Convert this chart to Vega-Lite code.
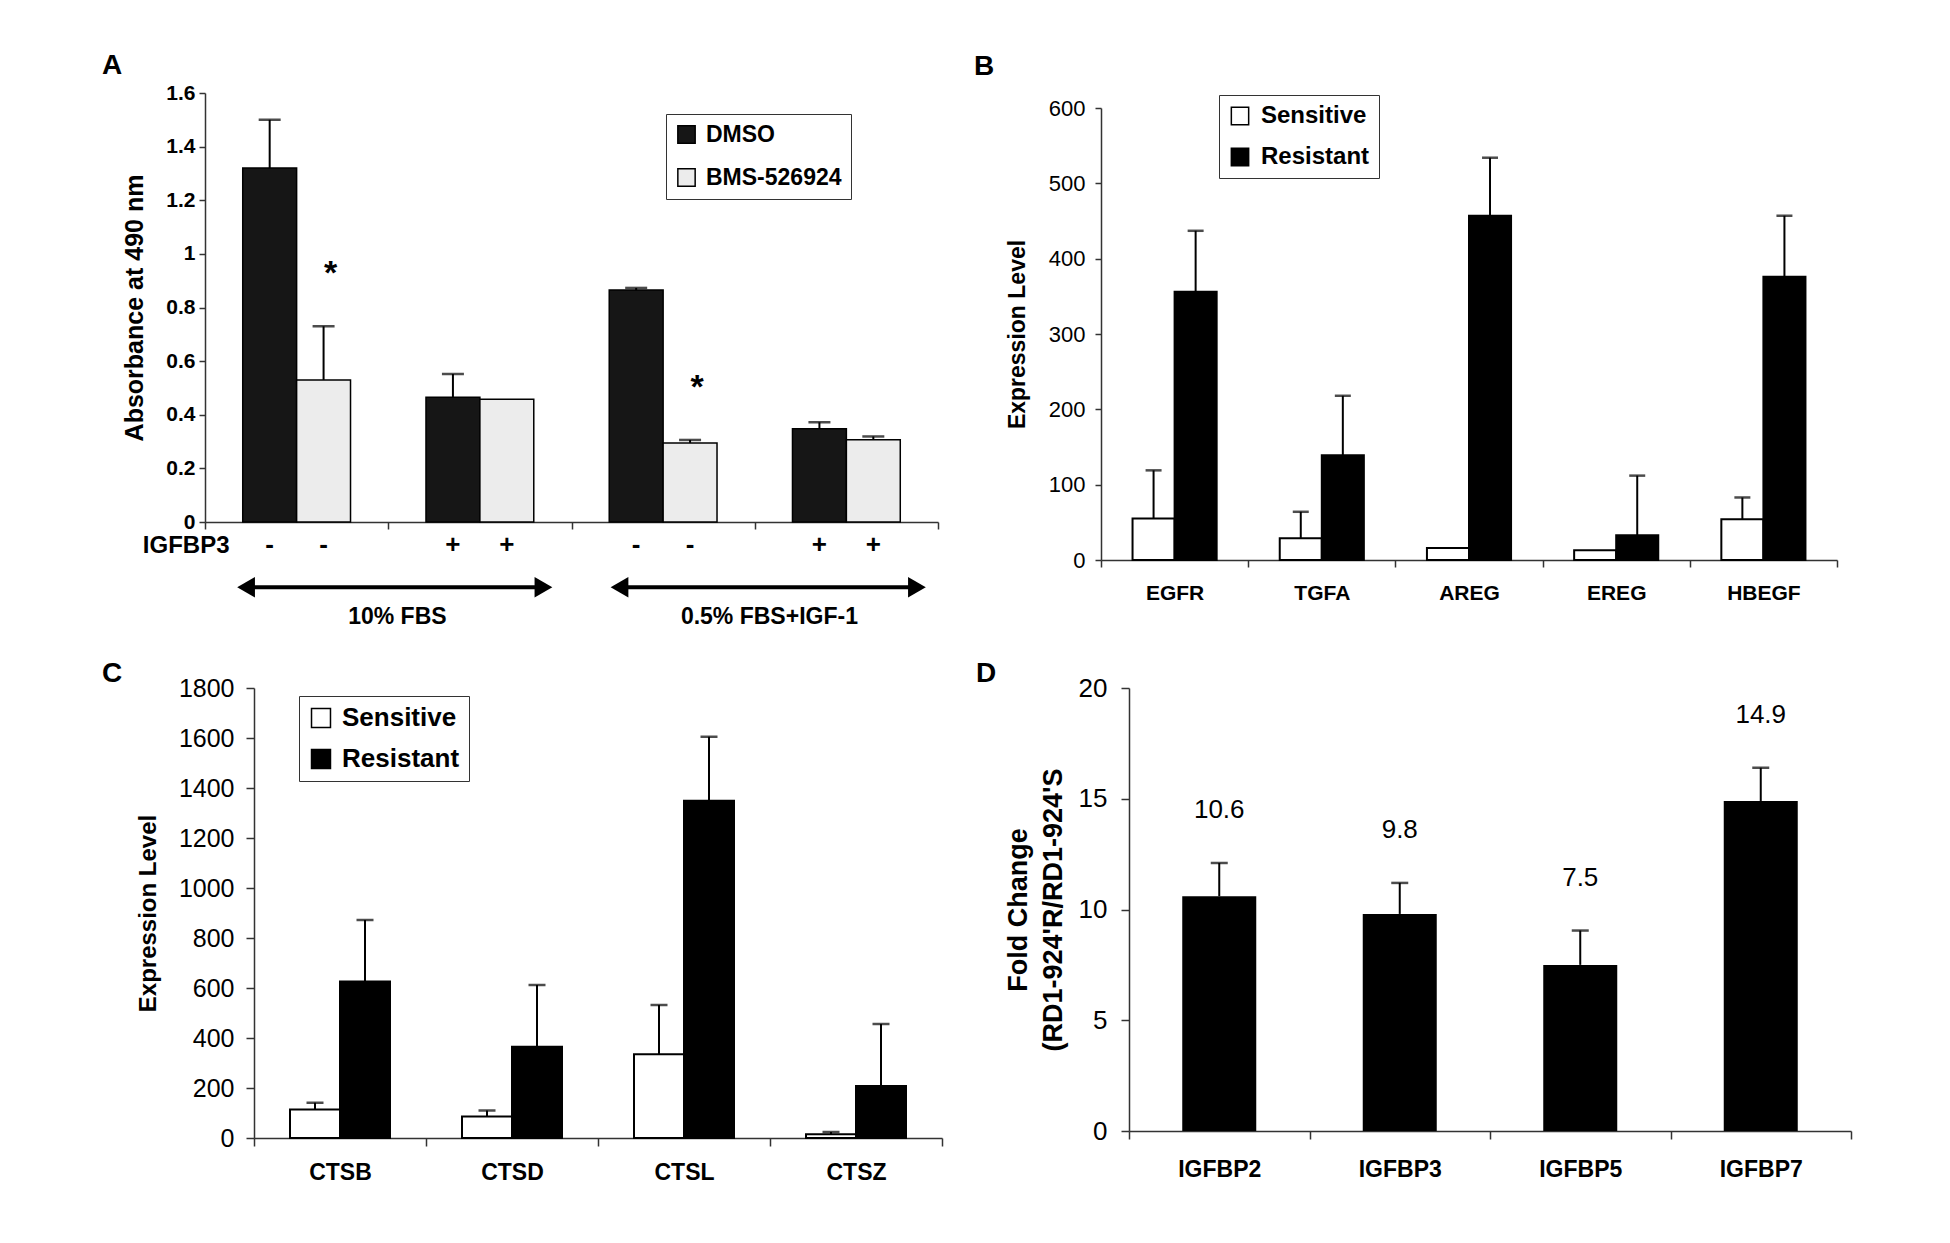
{
  "$schema": "https://vega.github.io/schema/vega-lite/v6.json",
  "background": "white",
  "padding": {"left": 101, "top": 51, "right": 10, "bottom": 10},
  "config": {
    "view": {"stroke": null},
    "font": "Liberation Sans",
    "axis": {"grid": false, "domainColor": "#333", "domainWidth": 1.5, "tickColor": "#333", "tickWidth": 1.5, "labelColor": "#000", "titleColor": "#000", "labelFont": "Liberation Sans", "titleFont": "Liberation Sans"},
    "title": {"font": "Liberation Sans", "fontSize": 28, "fontWeight": "bold", "color": "#000", "anchor": "start", "frame": "group"}
  },
  "columns": 2,
  "align": "none",
  "spacing": {"row": 31, "column": 0},
  "resolve": {"scale": {"x": "independent", "y": "independent", "color": "independent", "xOffset": "independent"}, "legend": {"color": "independent"}},
  "concat": [
    {"width": 1, "height": 1, "data": {"values": []}, "mark": "point"},
    {
      "spacing": 35,
      "resolve": {"scale": {"x": "independent", "y": "independent", "color": "independent", "xOffset": "independent"}, "legend": {"color": "independent"}},
      "hconcat": [
        {
          "columns": 1, "align": "none", "spacing": 0,
          "resolve": {"scale": {"x": "independent", "y": "independent", "color": "independent", "xOffset": "independent"}, "legend": {"color": "independent"}},
          "concat": [
            {"width": 1, "height": 1, "data": {"values": []}, "mark": "point"},
            {
              "width": 733, "height": 429,
              "title": {"text": "A", "dx": -103, "offset": 2},
              "resolve": {"scale": {"x": "independent", "y": "independent"}},
              "layer": [
                {
                  "data": {"values": [
                    {"group": "10% FBS, no IGFBP3", "treatment": "DMSO", "absorbance": 1.32, "err": 1.50, "igfbp3": "-", "sig": ""},
                    {"group": "10% FBS, no IGFBP3", "treatment": "BMS-526924", "absorbance": 0.53, "err": 0.73, "igfbp3": "-", "sig": "*"},
                    {"group": "10% FBS, IGFBP3", "treatment": "DMSO", "absorbance": 0.465, "err": 0.552, "igfbp3": "+", "sig": ""},
                    {"group": "10% FBS, IGFBP3", "treatment": "BMS-526924", "absorbance": 0.458, "err": 0.458, "igfbp3": "+", "sig": ""},
                    {"group": "0.5% FBS+IGF-1, no IGFBP3", "treatment": "DMSO", "absorbance": 0.865, "err": 0.873, "igfbp3": "-", "sig": ""},
                    {"group": "0.5% FBS+IGF-1, no IGFBP3", "treatment": "BMS-526924", "absorbance": 0.295, "err": 0.306, "igfbp3": "-", "sig": "*"},
                    {"group": "0.5% FBS+IGF-1, IGFBP3", "treatment": "DMSO", "absorbance": 0.348, "err": 0.372, "igfbp3": "+", "sig": ""},
                    {"group": "0.5% FBS+IGF-1, IGFBP3", "treatment": "BMS-526924", "absorbance": 0.307, "err": 0.319, "igfbp3": "+", "sig": ""}
                  ]},
                  "layer": [
                    {
                      "mark": {"type": "bar", "stroke": "#000", "strokeWidth": 1.5},
                      "encoding": {
                        "x": {"field": "group", "type": "nominal", "sort": null, "scale": {"paddingInner": 0, "paddingOuter": 0},
                          "axis": {"labels": false, "tickBand": "extent", "tickSize": 7, "title": "IGFBP3", "titleX": 24, "titleY": 23, "titleAlign": "right", "titleBaseline": "middle", "titleFontSize": 24, "titleFontWeight": "bold"}},
                        "xOffset": {"field": "treatment", "type": "nominal", "sort": ["DMSO", "BMS-526924"], "scale": {"paddingInner": 0, "paddingOuter": 0.7}},
                        "y": {"field": "absorbance", "type": "quantitative", "scale": {"domain": [0, 1.6], "nice": false},
                          "axis": {"values": [0, 0.2, 0.4, 0.6, 0.8, 1, 1.2, 1.4, 1.6], "format": "~g", "labelFontSize": 21, "labelFontWeight": "bold", "tickSize": 6, "labelPadding": 4, "title": "Absorbance at 490 nm", "titleFontSize": 25, "titleFontWeight": "bold", "titleX": -63, "titleBaseline": "alphabetic"}},
                        "color": {"field": "treatment", "type": "nominal", "scale": {"domain": ["DMSO", "BMS-526924"], "range": ["#161616", "#ececec"]},
                          "legend": {"title": null, "orient": "none", "legendX": 461, "legendY": 21, "symbolType": "square", "symbolSize": 300, "symbolStrokeColor": "#000", "symbolStrokeWidth": 1.5, "labelFont": "Liberation Sans", "labelFontSize": 23, "labelFontWeight": "bold", "labelColor": "#000", "strokeColor": "#333", "padding": 9, "rowPadding": 18, "labelOffset": 8, "fillColor": "#fff"}}
                      }
                    },
                    {
                      "transform": [{"filter": "datum.err > datum.absorbance"}],
                      "mark": {"type": "rule", "strokeWidth": 2, "color": "#000"},
                      "encoding": {
                        "x": {"field": "group", "type": "nominal", "sort": null},
                        "xOffset": {"field": "treatment", "type": "nominal", "sort": ["DMSO", "BMS-526924"]},
                        "y": {"field": "absorbance", "type": "quantitative"},
                        "y2": {"field": "err"}
                      }
                    },
                    {
                      "transform": [{"filter": "datum.err > datum.absorbance"}],
                      "mark": {"type": "tick", "thickness": 2.5, "size": 22, "color": "#000", "orient": "horizontal"},
                      "encoding": {
                        "x": {"field": "group", "type": "nominal", "sort": null},
                        "xOffset": {"field": "treatment", "type": "nominal", "sort": ["DMSO", "BMS-526924"]},
                        "y": {"field": "err", "type": "quantitative"}
                      }
                    },
                    {
                      "transform": [{"filter": "datum.sig == '*'"}],
                      "mark": {"type": "text", "fontSize": 34, "fontWeight": "bold", "dy": -52, "dx": 7, "baseline": "middle", "color": "#000"},
                      "encoding": {
                        "x": {"field": "group", "type": "nominal", "sort": null},
                        "xOffset": {"field": "treatment", "type": "nominal", "sort": ["DMSO", "BMS-526924"]},
                        "y": {"field": "err", "type": "quantitative"},
                        "text": {"field": "sig"}
                      }
                    },
                    {
                      "mark": {"type": "text", "fontSize": 26, "fontWeight": "bold", "dy": 23, "baseline": "middle", "color": "#000"},
                      "encoding": {
                        "x": {"field": "group", "type": "nominal", "sort": null},
                        "xOffset": {"field": "treatment", "type": "nominal", "sort": ["DMSO", "BMS-526924"]},
                        "y": {"datum": 0, "type": "quantitative"},
                        "text": {"field": "igfbp3"}
                      }
                    }
                  ]
                },
                {
                  "data": {"values": [
                    {"condition": "10% FBS", "start": 0.224, "end": 1.847, "center": 1.05},
                    {"condition": "0.5% FBS+IGF-1", "start": 2.262, "end": 3.885, "center": 3.08}
                  ]},
                  "layer": [
                    {
                      "mark": {"type": "rule", "strokeWidth": 4, "color": "#000"},
                      "encoding": {
                        "x": {"field": "start", "type": "quantitative", "scale": {"domain": [0, 4], "nice": false, "zero": false}, "axis": null},
                        "x2": {"field": "end"},
                        "y": {"datum": -0.243, "type": "quantitative", "scale": {"domain": [0, 1.6], "nice": false}, "axis": null}
                      }
                    },
                    {
                      "mark": {"type": "point", "shape": "triangle-left", "filled": true, "size": 420, "color": "#000", "opacity": 1},
                      "encoding": {
                        "x": {"field": "start", "type": "quantitative"},
                        "y": {"datum": -0.243, "type": "quantitative"}
                      }
                    },
                    {
                      "mark": {"type": "point", "shape": "triangle-right", "filled": true, "size": 420, "color": "#000", "opacity": 1},
                      "encoding": {
                        "x": {"field": "end", "type": "quantitative"},
                        "y": {"datum": -0.243, "type": "quantitative"}
                      }
                    },
                    {
                      "mark": {"type": "text", "fontSize": 23, "fontWeight": "bold", "baseline": "middle", "color": "#000"},
                      "encoding": {
                        "x": {"field": "center", "type": "quantitative"},
                        "y": {"datum": -0.354, "type": "quantitative"},
                        "text": {"field": "condition"}
                      }
                    }
                  ]
                }
              ]
            }
          ]
        },
        {
          "columns": 1, "align": "none", "spacing": 0,
          "resolve": {"scale": {"x": "independent", "y": "independent", "color": "independent", "xOffset": "independent"}, "legend": {"color": "independent"}},
          "concat": [
            {"width": 1, "height": 1, "data": {"values": []}, "mark": "point"},
            {
              "width": 736, "height": 452,
              "title": {"text": "B", "dx": -127, "offset": 14},
              "data": {"values": [
                {"gene": "EGFR", "line": "Sensitive", "expression": 55, "err": 119},
                {"gene": "EGFR", "line": "Resistant", "expression": 356, "err": 437},
                {"gene": "TGFA", "line": "Sensitive", "expression": 29, "err": 64},
                {"gene": "TGFA", "line": "Resistant", "expression": 139, "err": 218},
                {"gene": "AREG", "line": "Sensitive", "expression": 16, "err": 16},
                {"gene": "AREG", "line": "Resistant", "expression": 457, "err": 534},
                {"gene": "EREG", "line": "Sensitive", "expression": 13, "err": 13},
                {"gene": "EREG", "line": "Resistant", "expression": 33, "err": 112},
                {"gene": "HBEGF", "line": "Sensitive", "expression": 54, "err": 83},
                {"gene": "HBEGF", "line": "Resistant", "expression": 376, "err": 457}
              ]},
              "layer": [
                {
                  "mark": {"type": "bar", "stroke": "#000", "strokeWidth": 2},
                  "encoding": {
                    "x": {"field": "gene", "type": "nominal", "sort": null, "scale": {"paddingInner": 0, "paddingOuter": 0},
                      "axis": {"title": null, "labelAngle": 0, "labelFontSize": 21, "labelFontWeight": "bold", "tickBand": "extent", "tickSize": 7, "labelPadding": 15}},
                    "xOffset": {"field": "line", "type": "nominal", "sort": ["Sensitive", "Resistant"], "scale": {"paddingInner": 0, "paddingOuter": 0.75}},
                    "y": {"field": "expression", "type": "quantitative", "scale": {"domain": [0, 600], "nice": false},
                      "axis": {"values": [0, 100, 200, 300, 400, 500, 600], "format": "d", "labelFontSize": 22, "tickSize": 6, "labelPadding": 10, "title": "Expression Level", "titleFontSize": 23, "titleFontWeight": "bold", "titleX": -77, "titleBaseline": "alphabetic"}},
                    "color": {"field": "line", "type": "nominal", "scale": {"domain": ["Sensitive", "Resistant"], "range": ["#ffffff", "#000000"]},
                      "legend": {"title": null, "orient": "none", "legendX": 118, "legendY": -13, "symbolType": "square", "symbolSize": 300, "symbolStrokeColor": "#000", "symbolStrokeWidth": 1.5, "labelFont": "Liberation Sans", "labelFontSize": 24, "labelFontWeight": "bold", "labelColor": "#000", "strokeColor": "#333", "padding": 9, "rowPadding": 17, "labelOffset": 9, "fillColor": "#fff"}}
                  }
                },
                {
                  "transform": [{"filter": "datum.err > datum.expression"}],
                  "mark": {"type": "rule", "strokeWidth": 2, "color": "#000"},
                  "encoding": {
                    "x": {"field": "gene", "type": "nominal", "sort": null},
                    "xOffset": {"field": "line", "type": "nominal", "sort": ["Sensitive", "Resistant"]},
                    "y": {"field": "expression", "type": "quantitative"},
                    "y2": {"field": "err"}
                  }
                },
                {
                  "transform": [{"filter": "datum.err > datum.expression"}],
                  "mark": {"type": "tick", "thickness": 2.5, "size": 16, "color": "#000", "orient": "horizontal"},
                  "encoding": {
                    "x": {"field": "gene", "type": "nominal", "sort": null},
                    "xOffset": {"field": "line", "type": "nominal", "sort": ["Sensitive", "Resistant"]},
                    "y": {"field": "err", "type": "quantitative"}
                  }
                }
              ]
            }
          ]
        }
      ]
    },
    {"width": 1, "height": 1, "data": {"values": []}, "mark": "point"},
    {
      "spacing": 33,
      "resolve": {"scale": {"x": "independent", "y": "independent", "color": "independent", "xOffset": "independent"}, "legend": {"color": "independent"}},
      "hconcat": [
        {
          "width": 688, "height": 450,
          "title": {"text": "C", "dx": -152, "offset": -12},
          "data": {"values": [
            {"gene": "CTSB", "line": "Sensitive", "expression": 114, "err": 141},
            {"gene": "CTSB", "line": "Resistant", "expression": 626, "err": 872},
            {"gene": "CTSD", "line": "Sensitive", "expression": 86, "err": 110},
            {"gene": "CTSD", "line": "Resistant", "expression": 365, "err": 612},
            {"gene": "CTSL", "line": "Sensitive", "expression": 335, "err": 532},
            {"gene": "CTSL", "line": "Resistant", "expression": 1349, "err": 1605},
            {"gene": "CTSZ", "line": "Sensitive", "expression": 15, "err": 24},
            {"gene": "CTSZ", "line": "Resistant", "expression": 208, "err": 456}
          ]},
          "layer": [
            {
              "mark": {"type": "bar", "stroke": "#000", "strokeWidth": 2},
              "encoding": {
                "x": {"field": "gene", "type": "nominal", "sort": null, "scale": {"paddingInner": 0, "paddingOuter": 0},
                  "axis": {"title": null, "labelAngle": 0, "labelFontSize": 23, "labelFontWeight": "bold", "tickBand": "extent", "tickSize": 8, "labelPadding": 15}},
                "xOffset": {"field": "line", "type": "nominal", "sort": ["Sensitive", "Resistant"], "scale": {"paddingInner": 0, "paddingOuter": 0.72}},
                "y": {"field": "expression", "type": "quantitative", "scale": {"domain": [0, 1800], "nice": false},
                  "axis": {"values": [0, 200, 400, 600, 800, 1000, 1200, 1400, 1600, 1800], "format": "d", "labelFontSize": 25, "tickSize": 8, "labelPadding": 12, "title": "Expression Level", "titleFontSize": 24, "titleFontWeight": "bold", "titleX": -99, "titleBaseline": "alphabetic"}},
                "color": {"field": "line", "type": "nominal", "scale": {"domain": ["Sensitive", "Resistant"], "range": ["#ffffff", "#000000"]},
                  "legend": {"title": null, "orient": "none", "legendX": 45, "legendY": 8, "symbolType": "square", "symbolSize": 360, "symbolStrokeColor": "#000", "symbolStrokeWidth": 1.5, "labelFont": "Liberation Sans", "labelFontSize": 26, "labelFontWeight": "bold", "labelColor": "#000", "strokeColor": "#333", "padding": 9, "rowPadding": 15, "labelOffset": 8, "fillColor": "#fff"}}
              }
            },
            {
              "transform": [{"filter": "datum.err > datum.expression"}],
              "mark": {"type": "rule", "strokeWidth": 2, "color": "#000"},
              "encoding": {
                "x": {"field": "gene", "type": "nominal", "sort": null},
                "xOffset": {"field": "line", "type": "nominal", "sort": ["Sensitive", "Resistant"]},
                "y": {"field": "expression", "type": "quantitative"},
                "y2": {"field": "err"}
              }
            },
            {
              "transform": [{"filter": "datum.err > datum.expression"}],
              "mark": {"type": "tick", "thickness": 2.5, "size": 17, "color": "#000", "orient": "horizontal"},
              "encoding": {
                "x": {"field": "gene", "type": "nominal", "sort": null},
                "xOffset": {"field": "line", "type": "nominal", "sort": ["Sensitive", "Resistant"]},
                "y": {"field": "err", "type": "quantitative"}
              }
            }
          ]
        },
        {
          "width": 722, "height": 443,
          "title": {"text": "D", "dx": -153, "offset": -13},
          "data": {"values": [
            {"gene": "IGFBP2", "fold": 10.6, "err": 12.1},
            {"gene": "IGFBP3", "fold": 9.8, "err": 11.2},
            {"gene": "IGFBP5", "fold": 7.5, "err": 9.05},
            {"gene": "IGFBP7", "fold": 14.9, "err": 16.4}
          ]},
          "layer": [
            {
              "mark": {"type": "bar", "width": {"band": 0.41}, "color": "#000"},
              "encoding": {
                "x": {"field": "gene", "type": "nominal", "sort": null, "scale": {"paddingInner": 0, "paddingOuter": 0},
                  "axis": {"title": null, "labelAngle": 0, "labelFontSize": 23, "labelFontWeight": "bold", "tickBand": "extent", "tickSize": 8, "labelPadding": 19}},
                "y": {"field": "fold", "type": "quantitative", "scale": {"domain": [0, 20], "nice": false},
                  "axis": {"values": [0, 5, 10, 15, 20], "labelFontSize": 26, "tickSize": 8, "labelPadding": 14, "title": ["Fold Change", "(RD1-924'R/RD1-924'S"], "titleFontSize": 27, "titleFontWeight": "bold", "titleX": -103, "titleBaseline": "alphabetic", "titleLineHeight": 35}}
              }
            },
            {
              "mark": {"type": "rule", "strokeWidth": 2, "color": "#000"},
              "encoding": {
                "x": {"field": "gene", "type": "nominal", "sort": null},
                "y": {"field": "fold", "type": "quantitative"},
                "y2": {"field": "err"}
              }
            },
            {
              "mark": {"type": "tick", "thickness": 2.5, "size": 17, "color": "#000", "orient": "horizontal"},
              "encoding": {
                "x": {"field": "gene", "type": "nominal", "sort": null},
                "y": {"field": "err", "type": "quantitative"}
              }
            },
            {
              "mark": {"type": "text", "fontSize": 26, "dy": -53, "baseline": "middle", "color": "#000"},
              "encoding": {
                "x": {"field": "gene", "type": "nominal", "sort": null},
                "y": {"field": "err", "type": "quantitative"},
                "text": {"field": "fold", "type": "quantitative", "format": ".1f"}
              }
            }
          ]
        }
      ]
    }
  ]
}
